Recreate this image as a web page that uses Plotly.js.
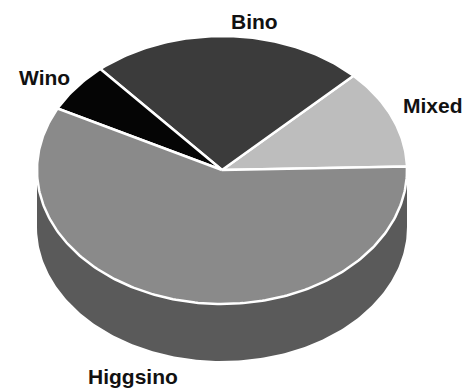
<!DOCTYPE html>
<html>
<head>
<meta charset="utf-8">
<script src="https://cdn.plot.ly/plotly-3.0.1.min.js"></script>
<style>
  html, body { margin: 0; padding: 0; background: #fff; }
  #chart { width: 464px; height: 390px; }
</style>
</head>
<body>
<div id="chart"></div>
<script>
// Neutralino composition shares (percent), counter-clockwise from the right edge
const categories = ['Mixed', 'Bino', 'Wino', 'Higgsino'];
const shares = [12, 24, 6, 58];

// Slice fills (top face) and the darker wall shade
const topColors = ['#bdbdbd', '#3b3b3b', '#050505', '#8a8a8a'];
const wallColors = ['#8c8c8c', '#222222', '#000000', '#5a5a5a'];

// Disc geometry in plot units (the axes span the page 1:1)
const CX = 222, CY = 170, RX = 185, RY = 134, DEPTH = 57;
const START_DEG = 1.5;

// Label anchors
const labelPlacement = {
  Mixed:    { x: 401, y: 105, xanchor: 'left' },
  Bino:     { x: 254, y: 21,  xanchor: 'center' },
  Wino:     { x: 17,  y: 77,  xanchor: 'left' },
  Higgsino: { x: 86,  y: 376, xanchor: 'left' }
};

function pt(deg, drop) {
  const t = deg * Math.PI / 180;
  return [CX + RX * Math.cos(t), CY - RY * Math.sin(t) + (drop || 0)];
}

function arc(a, b, drop) {
  const xs = [], ys = [];
  const n = Math.max(2, Math.ceil(Math.abs(b - a)));
  for (let i = 0; i <= n; i++) {
    const p = pt(a + (b - a) * i / n, drop);
    xs.push(p[0]); ys.push(p[1]);
  }
  return [xs, ys];
}

const total = shares.reduce((s, v) => s + v, 0);
const slices = [];
let acc = START_DEG;
shares.forEach((v, i) => {
  const span = v / total * 360;
  slices.push({ name: categories[i], a: acc, b: acc + span, i: i });
  acc += span;
});

const traces = [];

// Front wall: the part of each slice lying in the lower half (180°..360°)
slices.forEach(s => {
  for (const off of [0, 360, -360]) {
    const a = Math.max(s.a + off, 180), b = Math.min(s.b + off, 360);
    if (b > a) {
      const top = arc(a, b, 0), bot = arc(b, a, DEPTH);
      traces.push({
        type: 'scatter', mode: 'lines', fill: 'toself',
        x: top[0].concat(bot[0]), y: top[1].concat(bot[1]),
        fillcolor: wallColors[s.i], line: { width: 0 },
        hoverinfo: 'skip'
      });
    }
  }
});

// Top faces
slices.forEach(s => {
  const ar = arc(s.a, s.b, 0);
  traces.push({
    type: 'scatter', mode: 'lines', fill: 'toself',
    x: [CX].concat(ar[0], [CX]), y: [CY].concat(ar[1], [CY]),
    fillcolor: topColors[s.i],
    line: { color: '#ffffff', width: 2.5 },
    name: s.name, hoverinfo: 'skip'
  });
});

const annotations = categories.map(c => ({
  xref: 'x', yref: 'y',
  x: labelPlacement[c].x, y: labelPlacement[c].y,
  xanchor: labelPlacement[c].xanchor, yanchor: 'middle',
  text: c, showarrow: false,
  font: { family: 'Liberation Sans, Arial, sans-serif', size: 21, weight: 700, color: '#111111' }
}));

const layout = {
  width: 464, height: 390,
  margin: { l: 0, r: 0, t: 0, b: 0 },
  paper_bgcolor: '#ffffff', plot_bgcolor: '#ffffff',
  showlegend: false,
  xaxis: { range: [0, 464], visible: false, fixedrange: true },
  yaxis: { range: [390, 0], visible: false, fixedrange: true },
  annotations: annotations
};

Plotly.newPlot('chart', traces, layout, { staticPlot: true, displayModeBar: false });
</script>
</body>
</html>
